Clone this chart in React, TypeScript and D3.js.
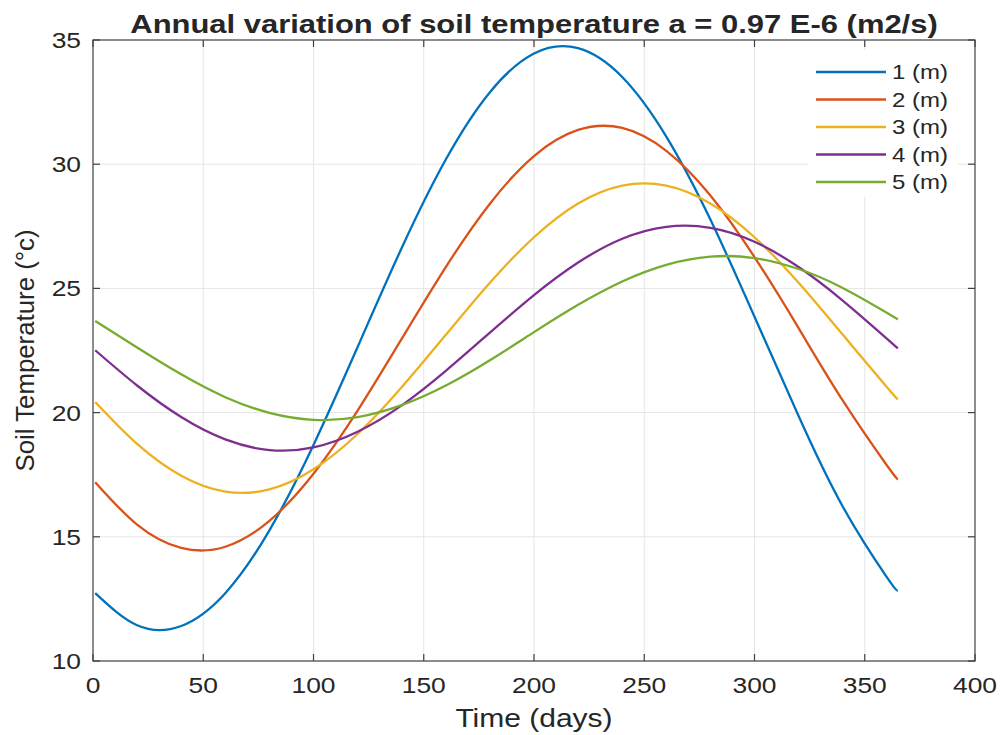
import React from 'react'
import * as d3 from 'd3'

// days sampled along each curve
const days = [1, 20, 40, 60, 80, 100, 120, 140, 160, 180, 200, 220, 240, 260, 280, 300, 320, 340, 360, 365]

// soil temperature (°c), one array per depth
const depth1 = [12.73, 11.44, 11.41, 12.73, 15.26, 18.7, 22.64, 26.63, 30.19, 32.9, 34.46, 34.67, 33.51, 31.11, 27.77, 23.86, 19.86, 16.22, 13.38, 12.83]
const depth2 = [17.2, 15.49, 14.55, 14.6, 15.64, 17.54, 20.08, 22.97, 25.86, 28.41, 30.33, 31.38, 31.46, 30.54, 28.74, 26.26, 23.4, 20.49, 17.88, 17.31]
const depth3 = [20.43, 18.74, 17.46, 16.82, 16.91, 17.72, 19.14, 21.02, 23.13, 25.23, 27.06, 28.42, 29.14, 29.14, 28.42, 27.06, 25.23, 23.14, 21.03, 20.53]
const depth4 = [22.51, 21.09, 19.82, 18.92, 18.49, 18.6, 19.23, 20.29, 21.68, 23.22, 24.73, 26.04, 27.0, 27.48, 27.44, 26.88, 25.86, 24.51, 22.98, 22.59]
const depth5 = [23.69, 22.62, 21.54, 20.62, 19.99, 19.71, 19.82, 20.3, 21.09, 22.11, 23.24, 24.34, 25.28, 25.95, 26.28, 26.22, 25.78, 25.02, 24.02, 23.75]

const seriesNames = ['1 (m)', '2 (m)', '3 (m)', '4 (m)', '5 (m)']
const seriesValues = [depth1, depth2, depth3, depth4, depth5]
const colors = ['#0072BD', '#D95319', '#EDB120', '#7E2F8E', '#77AC30']

const xTicks = [0, 50, 100, 150, 200, 250, 300, 350, 400]
const yTicks = [10, 15, 20, 25, 30, 35]

const width = 1003
const height = 735
const margin = { top: 40, right: 28, bottom: 74, left: 93 }
const font = 'Liberation Sans, Arial, sans-serif'
const stretch = 1.2 // the picture is a bit wider than tall

// text drawn at (x, y) and stretched horizontally
function WideText({ x, y, size, anchor, weight, children }: any) {
  return (
    <g transform={`translate(${x},${y}) scale(${stretch},1)`}>
      <text x={0} y={0} fontSize={size} fontWeight={weight || 'normal'} textAnchor={anchor} fill="#262626" fontFamily={font}>
        {children}
      </text>
    </g>
  )
}

export default function App() {
  const x = d3.scaleLinear().domain([0, 400]).range([margin.left, width - margin.right])
  const y = d3.scaleLinear().domain([10, 35]).range([height - margin.bottom, margin.top])

  const line = d3
    .line<number>()
    .x((_, i) => x(days[i]))
    .y(d => y(d))
    .curve(d3.curveNatural)

  const x0 = x(0)
  const x1 = x(400)
  const y0 = y(10)
  const y1 = y(35)
  const tick = 7

  const legend = { left: 808, top: 50, w: 150, h: 147, row: 27.5 }

  return (
    <svg width={width} height={height} style={{ position: 'absolute', left: 0, top: 0, background: '#fff' }}>
      {/* grid */}
      <g stroke="#e6e6e6" strokeWidth={1}>
        {xTicks.slice(1, -1).map(t => (
          <line key={'gx' + t} x1={x(t)} x2={x(t)} y1={y0} y2={y1} />
        ))}
        {yTicks.slice(1, -1).map(t => (
          <line key={'gy' + t} x1={x0} x2={x1} y1={y(t)} y2={y(t)} />
        ))}
      </g>

      {/* curves */}
      {seriesValues.map((vals, i) => (
        <path key={seriesNames[i]} d={line(vals) || ''} fill="none" stroke={colors[i]} strokeWidth={2.3} />
      ))}

      {/* box + ticks */}
      <rect x={x0} y={y1} width={x1 - x0} height={y0 - y1} fill="none" stroke="#404040" strokeWidth={1.2} />
      <g stroke="#404040" strokeWidth={1.2}>
        {xTicks.map(t => (
          <g key={'tx' + t}>
            <line x1={x(t)} x2={x(t)} y1={y0} y2={y0 - tick} />
            <line x1={x(t)} x2={x(t)} y1={y1} y2={y1 + tick} />
          </g>
        ))}
        {yTicks.map(t => (
          <g key={'ty' + t}>
            <line x1={x0} x2={x0 + tick} y1={y(t)} y2={y(t)} />
            <line x1={x1} x2={x1 - tick} y1={y(t)} y2={y(t)} />
          </g>
        ))}
      </g>

      {/* tick labels */}
      {xTicks.map(t => (
        <WideText key={'lx' + t} x={x(t)} y={y0 + 32} size={22} anchor="middle">
          {t}
        </WideText>
      ))}
      {yTicks.map(t => (
        <WideText key={'ly' + t} x={x0 - 12} y={y(t) + 8} size={22} anchor="end">
          {t}
        </WideText>
      ))}

      {/* axis titles */}
      <WideText x={(x0 + x1) / 2} y={727} size={25} anchor="middle">
        Time (days)
      </WideText>
      <text
        transform={`translate(34,${(y0 + y1) / 2}) rotate(-90)`}
        fontSize={25.8}
        textAnchor="middle"
        fill="#262626"
        fontFamily={font}
      >
        Soil Temperature (°c)
      </text>

      {/* title */}
      <WideText x={(x0 + x1) / 2} y={33} size={25.8} anchor="middle" weight="bold">
        Annual variation of soil temperature a = 0.97 E-6 (m2/s)
      </WideText>

      {/* legend */}
      <rect x={legend.left} y={legend.top} width={legend.w} height={legend.h} fill="#fff" />
      {seriesNames.map((name, i) => {
        const ly = legend.top + 22 + i * legend.row
        return (
          <g key={'leg' + name}>
            <line x1={816} x2={886} y1={ly} y2={ly} stroke={colors[i]} strokeWidth={2.3} />
            <WideText x={892} y={ly + 7} size={20} anchor="start">
              {name}
            </WideText>
          </g>
        )
      })}
    </svg>
  )
}
